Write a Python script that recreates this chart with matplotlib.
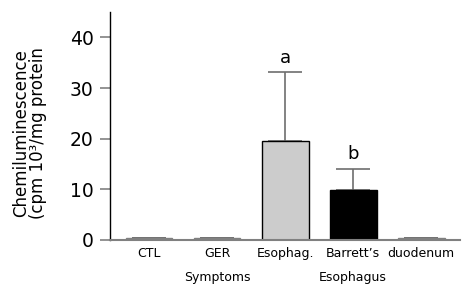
import numpy as np
from matplotlib import pyplot as plt

# data
groups = ['CTL', 'GER\nSymptoms', 'Esophag.', 'Barrett\u2019s\nEsophagus', 'duodenum']
means = [0.3, 0.3, 19.6, 9.8, 0.3]
errors = [0, 0, 13.5, 4.3, 0]
letters = ['', '', 'a', 'b', '']
fills = ['#808080', '#808080', '#cccccc', '#000000', '#808080']
edges = ['#808080', '#808080', '#000000', '#000000', '#808080']
yticks = [0, 10, 20, 30, 40]

fig = plt.figure(figsize=(4.65, 2.89), dpi=100)
ax = fig.add_axes([0.237, 0.170, 0.752, 0.788])

x = np.arange(len(groups))
ax.errorbar(x, means, yerr=[np.zeros(len(errors)), errors], fmt='none',
            ecolor='#6e6e6e', elinewidth=1.2, capsize=12, capthick=1.2, zorder=1)
ax.bar(x, means, width=0.69, color=fills, edgecolor=edges, linewidth=1, zorder=2)

for xi, m, e, t in zip(x, means, errors, letters):
    if t:
        ax.text(xi, m + e + 1.0, t, ha='center', va='bottom', fontsize=13)

ax.set_xlim(-0.57, 4.57)
ax.set_ylim(0, 45)
ax.set_yticks(yticks)
ax.tick_params(axis='y', length=7, width=1.2, color='#808080', labelsize=13.5, pad=5)
ax.set_xticks(x)
ax.set_xticklabels(groups, fontsize=9, linespacing=2.1)
ax.tick_params(axis='x', length=0, pad=5)
for lab in ax.get_xticklabels():
    lab.set_verticalalignment('top')

ax.spines['top'].set_visible(False)
ax.spines['right'].set_visible(False)
ax.spines['left'].set_color('black')
ax.spines['left'].set_linewidth(1)
ax.spines['bottom'].set_color('#808080')
ax.spines['bottom'].set_linewidth(1.5)

ax.set_ylabel('Chemiluminescence\n(cpm 10\u00b3/mg protein', fontsize=12,
              linespacing=0.95, va='center')
ax.yaxis.set_label_coords(-0.23, 0.47)

fig.savefig('out.png', dpi=100)
